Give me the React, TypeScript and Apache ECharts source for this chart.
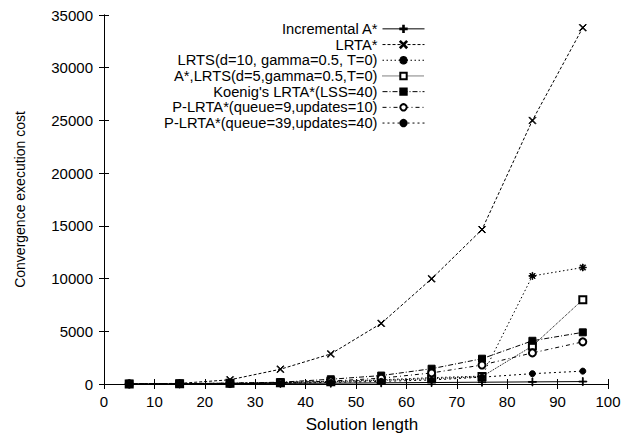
import React, { useEffect, useRef } from "react";
import * as echarts from "echarts";

const solutionLength = [5, 15, 25, 35, 45, 55, 65, 75, 85, 95];
const incrementalA = [5, 20, 40, 60, 80, 110, 140, 170, 200, 230];
const lrta = [10, 60, 400, 1400, 2850, 5750, 9980, 14650, 25000, 33800];
const lrtsD10 = [10, 30, 80, 150, 250, 400, 600, 750, 10250, 11050];
const aStarLrtsD5 = [10, 30, 70, 130, 220, 350, 500, 700, 3600, 8000];
const koenig = [20, 40, 80, 170, 450, 800, 1450, 2400, 4100, 4900];
const plrta9 = [10, 30, 60, 130, 280, 550, 1050, 1800, 2950, 4000];
const plrta39 = [5, 15, 40, 80, 150, 250, 380, 650, 980, 1220];

const seriesNames = [
  "Incremental A*",
  "LRTA*",
  "LRTS(d=10, gamma=0.5, T=0)",
  "A*,LRTS(d=5,gamma=0.5,T=0)",
  "Koenig's LRTA*(LSS=40)",
  "P-LRTA*(queue=9,updates=10)",
  "P-LRTA*(queue=39,updates=40)",
];

const PLUS = "path://M0,3.6h8v0.8h-8z M3.6,0h0.8v8h-0.8z";
const CROSS =
  "path://M0,0.6L0.6,0L8,7.4L7.4,8Z M7.4,0L8,0.6L0.6,8L0,7.4Z";
const STAR =
  "path://M0,3.6h8v0.8h-8z M3.6,0h0.8v8h-0.8z M0.8,1.4L1.4,0.8L7.2,6.6L6.6,7.2Z M6.6,0.8L7.2,1.4L1.4,7.2L0.8,6.6Z";

const FONT = "'Liberation Sans', Arial, Helvetica, sans-serif";

export default function App() {
  const ref = useRef<HTMLDivElement>(null);
  useEffect(() => {
    if (!ref.current) return;
    const chart = echarts.init(ref.current, null, { renderer: "svg" });
    const mk = (
      name: string,
      values: number[],
      symbol: string,
      size: number,
      dash: any,
      z: number
    ) => ({
      name,
      type: "line",
      data: solutionLength.map((x, i) => [x, values[i]]),
      symbol,
      symbolSize: size,
      showSymbol: true,
      z,
      lineStyle: { color: "#000", width: 1, type: dash },
      itemStyle: { color: "#000", borderColor: "#000", borderWidth: 1 },
    });
    const series = [
      mk(seriesNames[0], incrementalA, PLUS, 8, "solid", 2),
      mk(seriesNames[1], lrta, CROSS, 7, [3, 2], 3),
      mk(seriesNames[2], lrtsD10, STAR, 7, [1.5, 2.5], 4),
      mk(seriesNames[3], aStarLrtsD5, "emptyRect", 7, [1, 1], 5),
      mk(seriesNames[4], koenig, "rect", 7, [5, 2, 1, 2], 6),
      mk(seriesNames[5], plrta9, "emptyCircle", 7, [4, 3, 1, 3], 7),
      mk(seriesNames[6], plrta39, "circle", 6, [2, 3], 8),
    ];
    const axisCommon = {
      axisLine: { show: true, lineStyle: { color: "#000", width: 1 } },
      axisTick: { show: true, inside: true, length: 5, lineStyle: { color: "#000" } },
      splitLine: { show: false },
    };
    chart.setOption({
      animation: false,
      backgroundColor: "#fff",
      textStyle: { fontFamily: FONT },
      grid: { left: 104, right: 30, top: 15, bottom: 49, containLabel: false },
      legend: {
        data: seriesNames,
        orient: "vertical",
        align: "right",
        right: 208,
        top: 16,
        itemWidth: 42,
        itemHeight: 8,
        itemGap: 0,
        lineStyle: { width: 1 },
        textStyle: { fontFamily: FONT, fontSize: 14.7, color: "#000", lineHeight: 15.7 },
        inactiveColor: "#000",
      },
      xAxis: [
        {
          type: "value",
          min: 0,
          max: 100,
          interval: 10,
          position: "bottom",
          name: "Solution length",
          nameLocation: "middle",
          nameGap: 32,
          nameTextStyle: { fontFamily: FONT, fontSize: 17, color: "#000", padding: [0, 0, 0, 12] },
          axisLabel: { fontFamily: FONT, fontSize: 15, color: "#000", margin: 10 },
          ...axisCommon,
        },
        {
          type: "value",
          min: 0,
          max: 100,
          interval: 10,
          position: "top",
          axisLabel: { show: false },
          ...axisCommon,
        },
      ],
      yAxis: [
        {
          type: "value",
          min: 0,
          max: 35000,
          interval: 5000,
          position: "left",
          name: "Convergence execution cost",
          nameLocation: "middle",
          nameGap: 77,
          nameTextStyle: { fontFamily: FONT, fontSize: 14, color: "#000" },
          axisLabel: {
            fontFamily: FONT,
            fontSize: 15,
            color: "#000",
            margin: 11,
            formatter: (v: number) => String(v),
          },
          ...axisCommon,
        },
        {
          type: "value",
          min: 0,
          max: 35000,
          interval: 5000,
          position: "right",
          axisLabel: { show: false },
          ...axisCommon,
        },
      ],
      series,
    });
    return () => chart.dispose();
  }, []);
  return (
    <div
      ref={ref}
      style={{ position: "fixed", left: 0, top: 0, width: 638, height: 438, background: "#fff" }}
    />
  );
}
